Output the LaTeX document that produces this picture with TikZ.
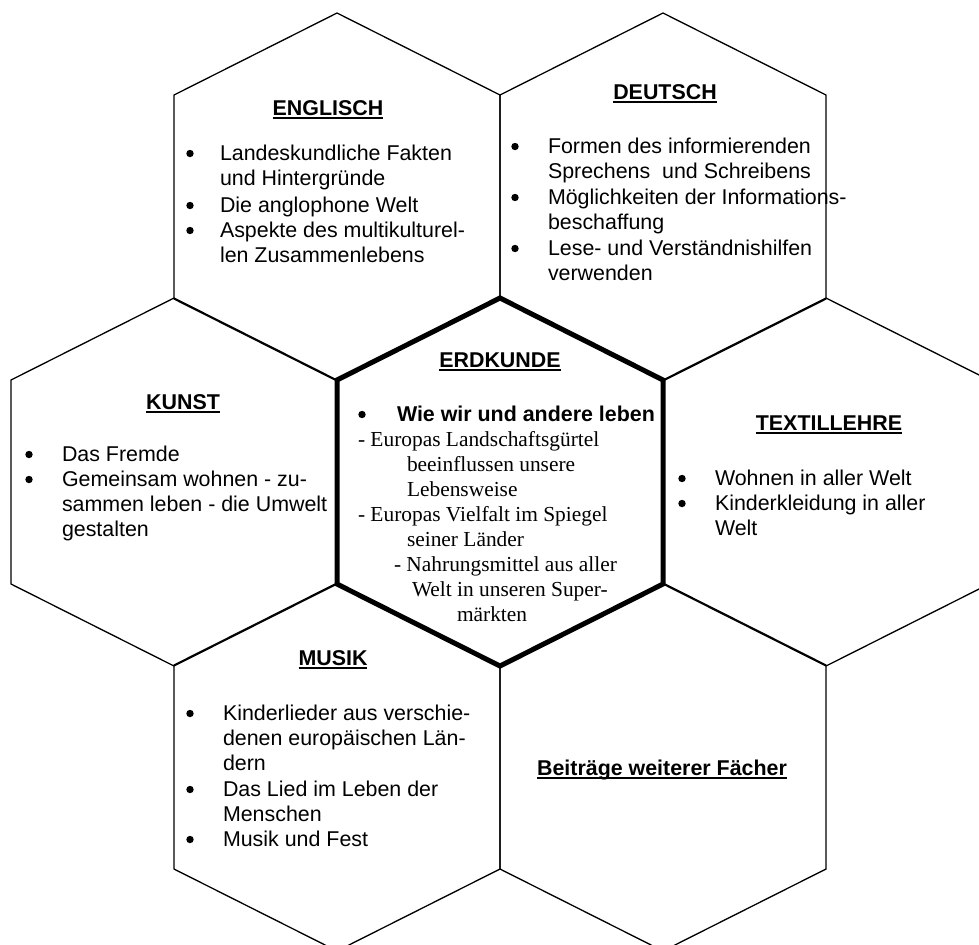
\documentclass[tikz,border=0pt]{standalone}
\usepackage{fontspec}
\setmainfont{Liberation Sans}
\newfontfamily\tnr{Liberation Serif}
\newcommand\fs{\fontsize{10.7}{12.65}\selectfont}
\newcommand\ml[1]{\begin{tabular}[t]{@{}l@{}}#1\end{tabular}}
\newcommand\hdline[1]{\setbox0=\hbox{#1}\rlap{\rule[-2pt]{\wd0}{1.25pt}}\box0}
\tikzset{
  thinline/.style={line width=0.65pt, line join=miter},
  thickline/.style={line width=2.5pt, line join=miter},
  basetxt/.style={inner sep=0pt, outer sep=0pt, font=\fs},
  hd/.style={basetxt, font=\fs\bfseries, anchor=base},
  itm/.style={basetxt, anchor=base west},
  ser/.style={basetxt, font=\fs\tnr, anchor=base west},
  bul/.style={circle, fill=black, inner sep=0pt, minimum size=3.7pt},
}
\begin{document}
\begin{tikzpicture}[x=0.5pt,y=-0.5pt]
\useasboundingbox (0,0) rectangle (979,944);
\fill[white] (0,0) rectangle (979,944);
\begin{scope}
\clip (0,0) rectangle (979,944);
\foreach \cx/\cy in {337/197, 663/197, 174/482, 826/482, 337/767, 663/767}{
  \draw[thinline] (\cx-163,\cy-102) -- (\cx,\cy-184) -- (\cx+163,\cy-102)
    -- (\cx+163,\cy+102) -- (\cx,\cy+184) -- (\cx-163,\cy+102) -- cycle;
}
\draw[thickline] (337,380) -- (500,298) -- (663,380) -- (663,584) -- (500,666) -- (337,584) -- cycle;
\end{scope}

% ENGLISCH
\node[hd] (hEng) at (328,115) {\hdline{ENGLISCH}};
\node[bul] (bE1) at (190,153.5) {};
\node[itm] (tE1) at (220,160) {\ml{Landeskundliche Fakten\\und Hintergründe}};
\node[bul] (bE2) at (190,205.5) {};
\node[itm] (tE2) at (220,212) {Die anglophone Welt};
\node[bul] (bE3) at (190,230.5) {};
\node[itm] (tE3) at (220,237) {\ml{Aspekte des multikulturel-\\len Zusammenlebens}};

% DEUTSCH
\node[hd] (hDeu) at (665,99) {\hdline{DEUTSCH}};
\node[bul] (bD1) at (515,146.5) {};
\node[itm] (tD1) at (548,153) {\ml{Formen des informierenden\\Sprechens\ \ und Schreibens}};
\node[bul] (bD2) at (515,197.5) {};
\node[itm] (tD2) at (548,204) {\ml{Möglichkeiten der Informations-\\beschaffung}};
\node[bul] (bD3) at (515,248.5) {};
\node[itm] (tD3) at (548,255) {\ml{Lese- und Verständnishilfen\\verwenden}};

% KUNST
\node[hd] (hKun) at (183,409) {\hdline{KUNST}};
\node[bul] (bK1) at (29,454.5) {};
\node[itm] (tK1) at (62,461) {Das Fremde};
\node[bul] (bK2) at (29,479.5) {};
\node[itm] (tK2) at (62,486) {\ml{Gemeinsam wohnen - zu-\\sammen leben - die Umwelt\\gestalten}};

% ERDKUNDE
\node[hd] (hErd) at (500,367) {\hdline{ERDKUNDE}};
\node[bul] (bC1) at (362,414.5) {};
\node[itm, font=\fs\bfseries] (tC1) at (397,421) {Wie wir und andere leben};
\node[ser] (tC2) at (358,446) {- Europas Landschaftsgürtel};
\node[ser] (tC3) at (407,471) {beeinflussen unsere};
\node[ser] (tC4) at (407,496) {Lebensweise};
\node[ser] (tC5) at (358,521) {- Europas Vielfalt im Spiegel};
\node[ser] (tC6) at (407,546) {seiner Länder};
\node[ser] (tC7) at (394,571) {- Nahrungsmittel aus aller};
\node[ser] (tC8) at (412,596) {Welt in unseren Super-};
\node[ser] (tC9) at (457,621) {märkten};

% TEXTILLEHRE
\node[hd] (hTex) at (829,430) {\hdline{TEXTILLEHRE}};
\node[bul] (bT1) at (682,478.5) {};
\node[itm] (tT1) at (715,485) {Wohnen in aller Welt};
\node[bul] (bT2) at (682,503.5) {};
\node[itm] (tT2) at (715,510) {\ml{Kinderkleidung in aller\\Welt}};

% MUSIK
\node[hd] (hMus) at (333,665) {\hdline{MUSIK}};
\node[bul] (bM1) at (190,713.5) {};
\node[itm] (tM1) at (223,720) {\ml{Kinderlieder aus verschie-\\denen europäischen Län-\\dern}};
\node[bul] (bM2) at (190,789.5) {};
\node[itm] (tM2) at (223,796) {\ml{Das Lied im Leben der\\Menschen}};
\node[bul] (bM3) at (190,839.5) {};
\node[itm] (tM3) at (223,846) {Musik und Fest};

% Beitraege
\node[hd] (hBei) at (662,775) {\hdline{Beiträge weiterer Fächer}};
\end{tikzpicture}
\end{document}
